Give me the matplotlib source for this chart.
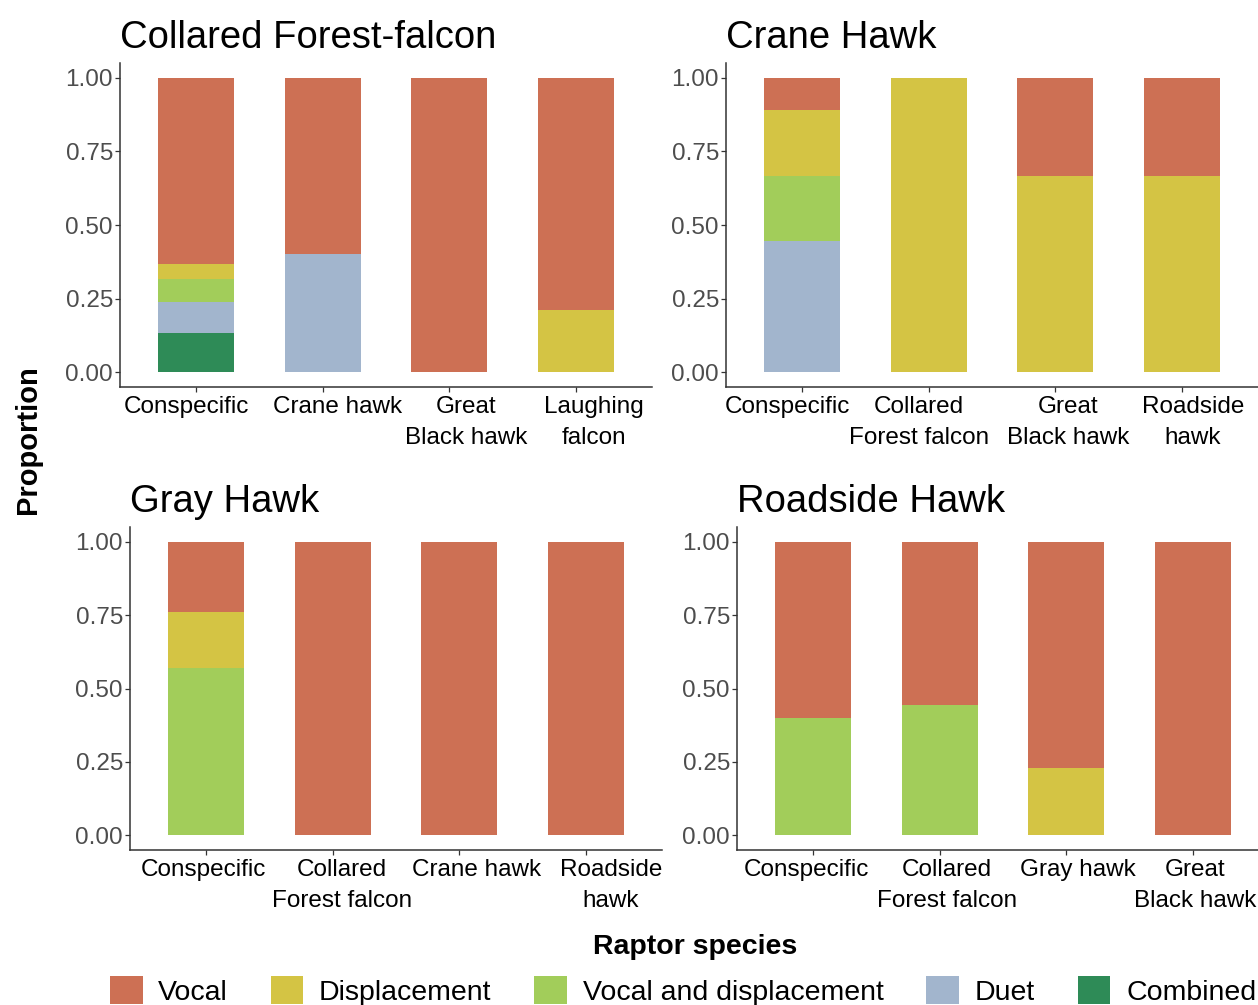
import matplotlib.pyplot as plt
from matplotlib.patches import Patch

plt.rcParams['font.family'] = ['Liberation Sans', 'DejaVu Sans']

# behaviour categories, stacked bottom -> top is reversed
behaviours = ["Vocal", "Displacement", "Vocal and displacement", "Duet", "Combined"]
colors = ["#CD7054", "#D4C444", "#A2CD5A", "#A2B5CD", "#2E8B57"]

# Collared Forest-falcon
cff_targets = ["Conspecific", "Crane hawk", "Great\nBlack hawk", "Laughing\nfalcon"]
cff_vocal = [0.631, 0.60, 1.0, 0.79]
cff_displacement = [0.053, 0.0, 0.0, 0.21]
cff_vocal_disp = [0.079, 0.0, 0.0, 0.0]
cff_duet = [0.105, 0.40, 0.0, 0.0]
cff_combined = [0.132, 0.0, 0.0, 0.0]

# Crane Hawk
ch_targets = ["Conspecific", "Collared\nForest falcon", "Great\nBlack hawk", "Roadside\nhawk"]
ch_vocal = [0.111, 0.0, 0.333, 0.333]
ch_displacement = [0.222, 1.0, 0.667, 0.667]
ch_vocal_disp = [0.222, 0.0, 0.0, 0.0]
ch_duet = [0.445, 0.0, 0.0, 0.0]
ch_combined = [0.0, 0.0, 0.0, 0.0]

# Gray Hawk
gh_targets = ["Conspecific", "Collared\nForest falcon", "Crane hawk", "Roadside\nhawk"]
gh_vocal = [0.238, 1.0, 1.0, 1.0]
gh_displacement = [0.191, 0.0, 0.0, 0.0]
gh_vocal_disp = [0.571, 0.0, 0.0, 0.0]
gh_duet = [0.0, 0.0, 0.0, 0.0]
gh_combined = [0.0, 0.0, 0.0, 0.0]

# Roadside Hawk
rh_targets = ["Conspecific", "Collared\nForest falcon", "Gray hawk", "Great\nBlack hawk"]
rh_vocal = [0.60, 0.556, 0.77, 1.0]
rh_displacement = [0.0, 0.0, 0.23, 0.0]
rh_vocal_disp = [0.40, 0.444, 0.0, 0.0]
rh_duet = [0.0, 0.0, 0.0, 0.0]
rh_combined = [0.0, 0.0, 0.0, 0.0]

panels = [
    ("Collared Forest-falcon", cff_targets,
     [cff_vocal, cff_displacement, cff_vocal_disp, cff_duet, cff_combined]),
    ("Crane Hawk", ch_targets,
     [ch_vocal, ch_displacement, ch_vocal_disp, ch_duet, ch_combined]),
    ("Gray Hawk", gh_targets,
     [gh_vocal, gh_displacement, gh_vocal_disp, gh_duet, gh_combined]),
    ("Roadside Hawk", rh_targets,
     [rh_vocal, rh_displacement, rh_vocal_disp, rh_duet, rh_combined]),
]

W, H = 1258, 1005
fig = plt.figure(figsize=(W / 100, H / 100), dpi=100)

# axes boxes in pixels: left, top, right, bottom
boxes = [
    (120, 63, 652, 387),
    (726, 63, 1258, 387),
    (130, 527, 662, 850),
    (737, 527, 1269, 850),
]
# horizontal nudge of the category labels (pixels)
label_shift = [
    [-10, 15, 17, 18],
    [-15, -10, 13, 11],
    [-3, 9, 17, 25],
    [-7, 7, 12, 2],
]

for (title, targets, series), (l, t, r, b), shifts in zip(panels, boxes, label_shift):
    ax = fig.add_axes([l / W, 1 - b / H, (r - l) / W, (b - t) / H])
    x = list(range(len(targets)))
    bottom = [0.0] * len(targets)
    # ggplot stacks the last level at the bottom
    for vals, col in zip(series[::-1], colors[::-1]):
        ax.bar(x, vals, width=0.6, bottom=bottom, color=col, linewidth=0)
        bottom = [bo + v for bo, v in zip(bottom, vals)]
    ax.set_xlim(-0.6, 3.6)
    ax.set_ylim(-0.05, 1.05)
    ax.set_yticks([0, 0.25, 0.5, 0.75, 1.0])
    ax.set_yticklabels(["0.00", "0.25", "0.50", "0.75", "1.00"])
    ax.set_xticks(x)
    ax.set_xticklabels([])
    # category labels, drawn under each tick
    for xi, name, dx in zip(x, targets, shifts):
        ax.annotate(name, xy=(xi, 0), xycoords=ax.get_xaxis_transform(),
                    xytext=(dx * 0.72, -6.3), textcoords="offset points",
                    ha="center", va="top", fontsize=17.5, linespacing=1.55,
                    annotation_clip=False)
    for s in ["top", "right"]:
        ax.spines[s].set_visible(False)
    for s in ["left", "bottom"]:
        ax.spines[s].set_linewidth(1.1)
        ax.spines[s].set_color("#333333")
    ax.tick_params(axis="y", labelsize=17.5, labelcolor="#4D4D4D",
                   length=3.6, width=0.9, color="#333333", pad=1.5)
    ax.tick_params(axis="x", length=3.6, width=0.9, color="#333333")
    ax.set_title(title, loc="left", fontsize=27.5, pad=11)

fig.text(28 / W, 1 - 440 / H, "Proportion", rotation=90, fontsize=21,
         fontweight="bold", ha="center", va="center")
fig.text(695 / W, 1 - 947 / H, "Raptor species", fontsize=20.5,
         fontweight="bold", ha="center", va="center")

handles = [Patch(facecolor=c, edgecolor="none") for c in colors]
fig.legend(handles, behaviours, loc="center", ncol=5,
           bbox_to_anchor=(683 / W, 1 - 991 / H), frameon=False,
           fontsize=20.5, handlelength=1.15, handleheight=1.1,
           handletextpad=0.55, columnspacing=1.5, borderpad=0)

fig.savefig("out.png", dpi=100)
